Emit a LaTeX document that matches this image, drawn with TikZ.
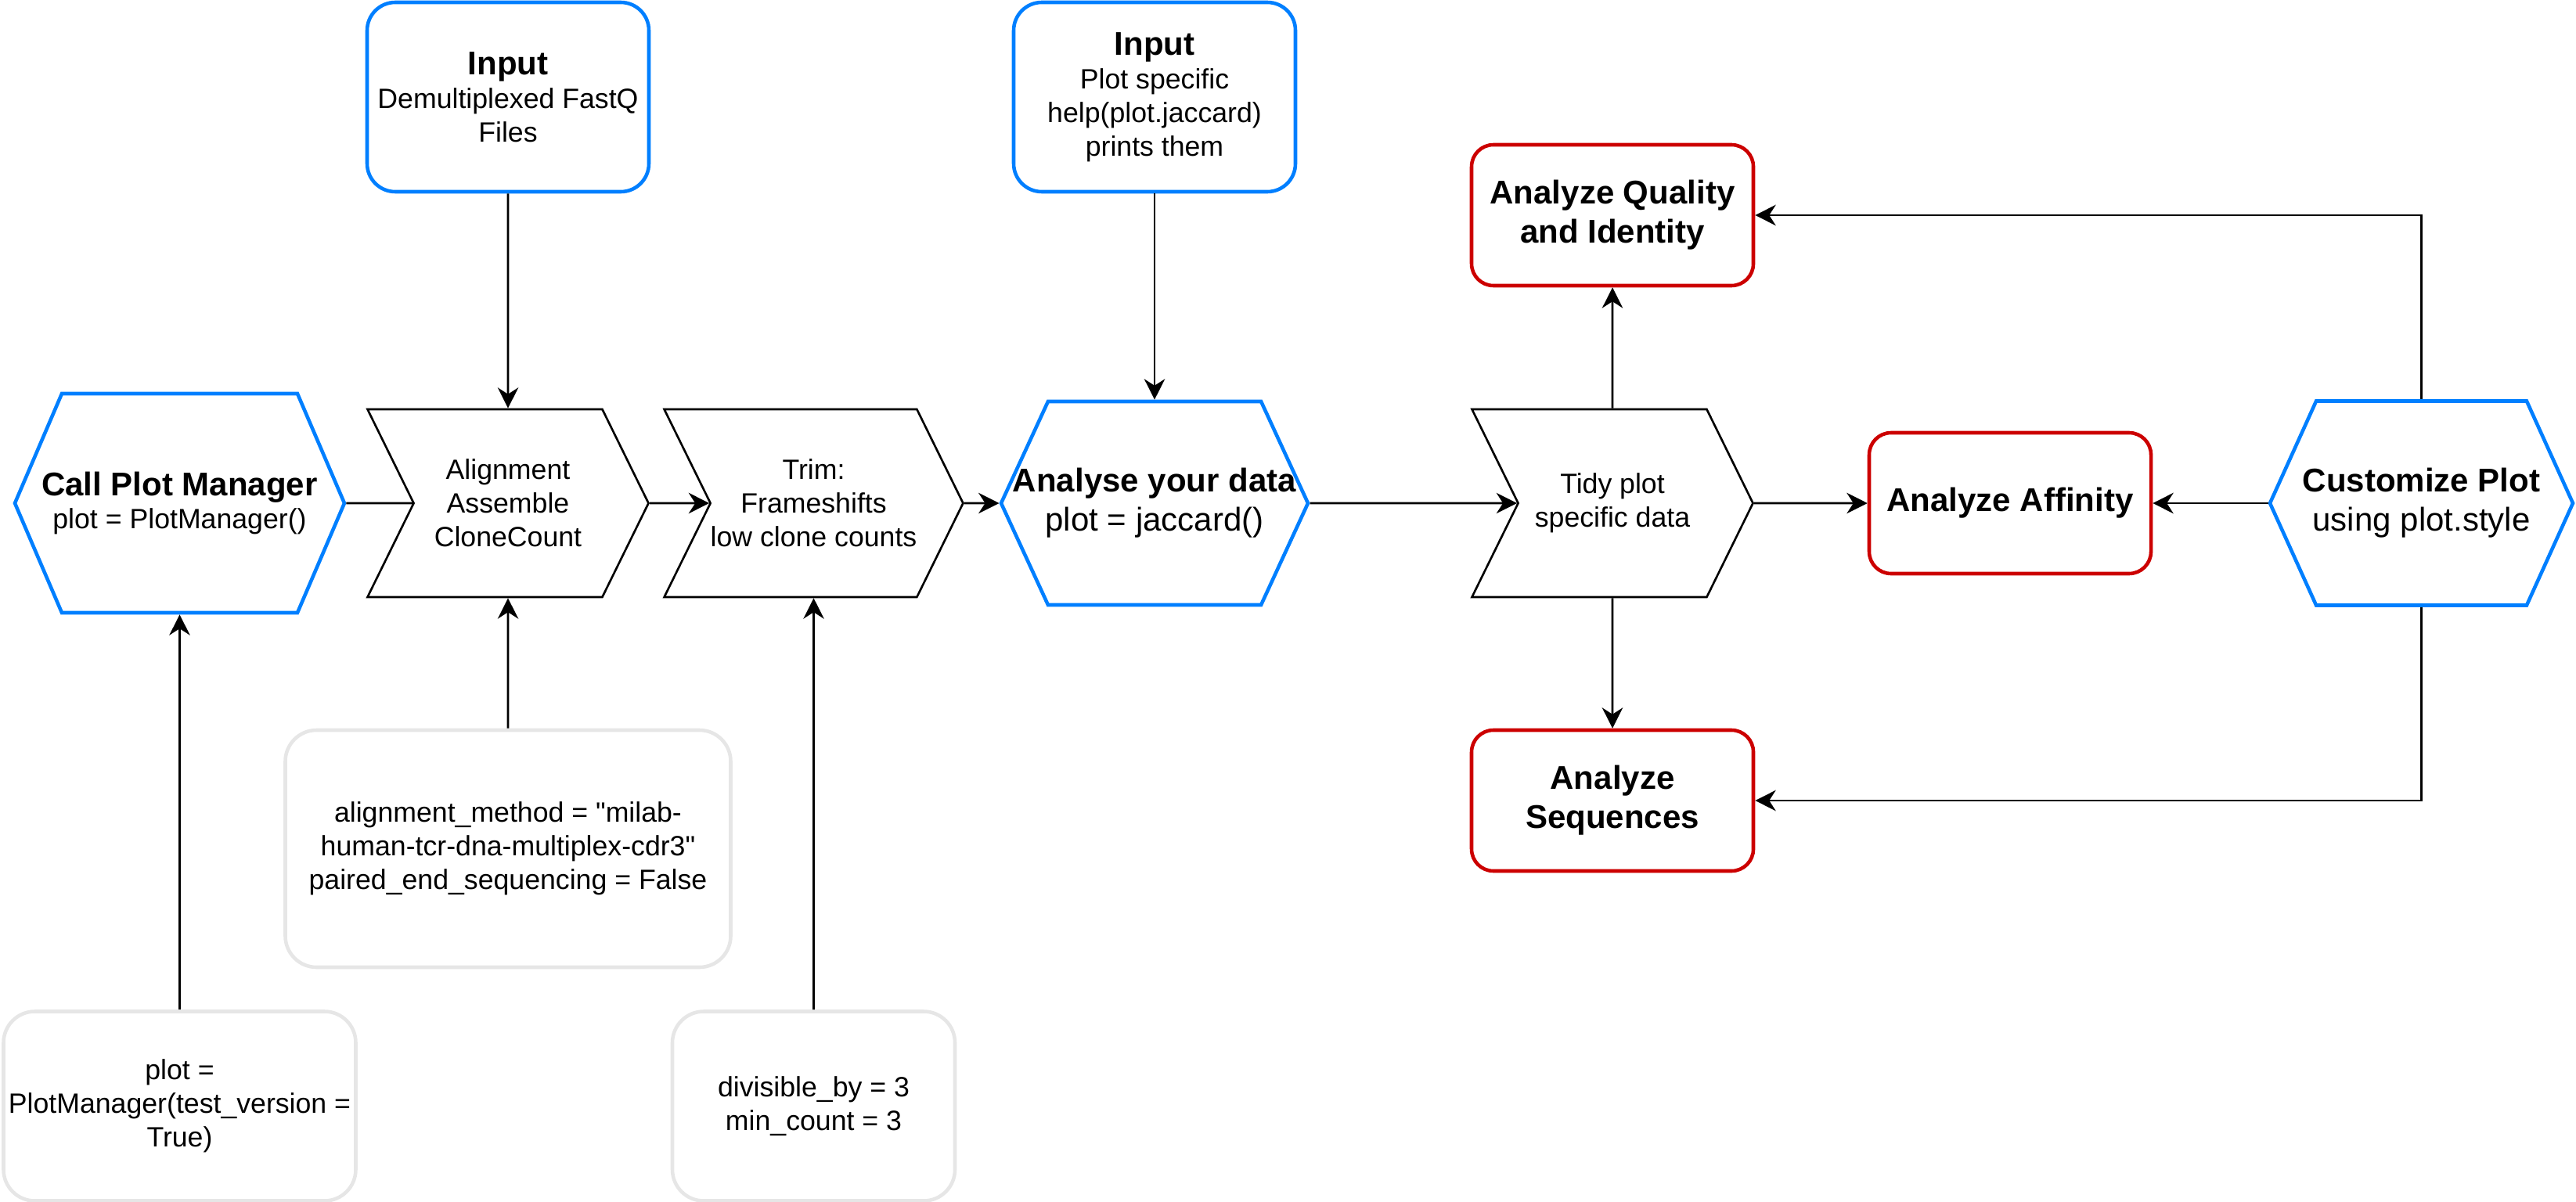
\documentclass[tikz,border=0pt]{standalone}
\usepackage{fontspec}
\setmainfont{Liberation Sans}[Ligatures=TeXOff]
\usetikzlibrary{shapes.symbols,arrows.meta}
\definecolor{inblue}{HTML}{007FFF}
\definecolor{outred}{HTML}{CC0000}
\definecolor{pargray}{HTML}{E6E6E6}
\newcommand{\ttl}[1]{{\fontsize{11.95}{14.3}\selectfont\bfseries #1}}

\begin{document}
\begin{tikzpicture}[x=1cm, y=-1cm,
		txt/.style={font=\fontsize{10.15}{12.2}\selectfont, align=center, inner sep=0pt},
		bigtxt/.style={txt, font=\fontsize{11.95}{14.3}\selectfont},
		inbox/.style={txt, draw=inblue, line width=1.3pt, rounded corners=0.36cm, minimum width=3.6cm, minimum height=2.42cm},
		outbox/.style={txt, font=\fontsize{11.95}{14.3}\selectfont\bfseries, draw=outred, line width=1.3pt, rounded corners=0.28cm, minimum width=3.6cm, minimum height=1.8cm},
		parbox/.style={txt, draw=pargray, line width=1.3pt, rounded corners=0.4cm, minimum height=2.42cm},
		hexbox/.style={signal, signal to=east and west, draw=inblue, line width=1.3pt, inner sep=0pt},
		stepbox/.style={txt, signal, signal from=west, signal to=east, draw, line width=0.75pt, minimum width=3.59cm, minimum height=2.4cm, signal pointer angle=127.6},
		link/.style={line width=0.75pt},
		arr/.style={link, -{Stealth[length=7.5pt, width=7.5pt, inset=2.4pt]}}]
		\useasboundingbox ( 0, 0 ) rectangle ( 32.91, 15.36 );

		% inputs
		\node [inbox] (fastq) at ( 6.49, 1.24 ) {\ttl{Input}\\Demultiplexed FastQ\\Files};
		\node [inbox] (plothelp) at ( 14.75, 1.24 ) {\ttl{Input}\\Plot specific\\help(plot.jaccard)\\prints them};

		% pipeline
		\node [hexbox, minimum width=4.21cm, minimum height=2.8cm, signal pointer angle=133.6] (callpm) at ( 2.295, 6.43 ) {};
		\node [txt] (callpm-t) at (callpm) {\ttl{Call Plot Manager}\\plot = PlotManager()};
		\node [stepbox] (align) at ( 6.49, 6.43 ) {Alignment\\Assemble\\CloneCount};
		\node [stepbox] (trim) at ( 10.395, 6.43 ) {Trim:\\Frameshifts\\low clone counts};
		\node [hexbox, minimum width=3.92cm, minimum height=2.6cm, signal pointer angle=130.5] (analyse) at ( 14.75, 6.43 ) {};
		\node [bigtxt] (analyse-t) at (analyse) {\textbf{Analyse your data}\\plot = jaccard()};
		\node [stepbox] (tidy) at ( 20.6, 6.43 ) {Tidy plot\\specific data};
		\node [hexbox, minimum width=3.87cm, minimum height=2.61cm, signal pointer angle=131.3] (custom) at ( 30.935, 6.43 ) {};
		\node [bigtxt] (custom-t) at (custom) {\textbf{Customize Plot}\\using plot.style};

		% outputs
		\node [outbox] (quality) at ( 20.6, 2.75 ) {Analyze Quality\\and Identity};
		\node [outbox] (affinity) at ( 25.68, 6.43 ) {Analyze Affinity};
		\node [outbox] (seqs) at ( 20.6, 10.23 ) {Analyze\\Sequences};

		% parameters
		\node [parbox, minimum width=5.69cm, minimum height=3.03cm] (alignpar) at ( 6.49, 10.845 ) {alignment\_method = "milab-\\human-tcr-dna-multiplex-cdr3"\\paired\_end\_sequencing = False};
		\node [parbox, minimum width=4.5cm] (pmpar) at ( 2.295, 14.135 ) {plot =\\PlotManager(test\_version =\\True)};
		\node [parbox, minimum width=3.61cm] (trimpar) at ( 10.395, 14.135 ) {divisible\_by = 3\\min\_count = 3};

		% connectors
		\draw [arr] (fastq) -- (align);
		\draw [arr] (plothelp) -- (analyse);
		\draw [link] (callpm) -- (align);
		\draw [arr] (align) -- (trim);
		\draw [arr] (trim) -- (analyse);
		\draw [arr] (analyse) -- (tidy);
		\draw [arr] (tidy) -- (affinity);
		\draw [arr] (custom) -- (affinity);
		\draw [arr] (tidy) -- (quality);
		\draw [arr] (tidy) -- (seqs);
		\draw [arr] (custom.north) |- (quality);
		\draw [arr] (custom.south) |- (seqs);
		\draw [arr] (alignpar) -- (align);
		\draw [arr] (pmpar) -- (callpm);
		\draw [arr] (trimpar) -- (trim);
\end{tikzpicture}
\end{document}
